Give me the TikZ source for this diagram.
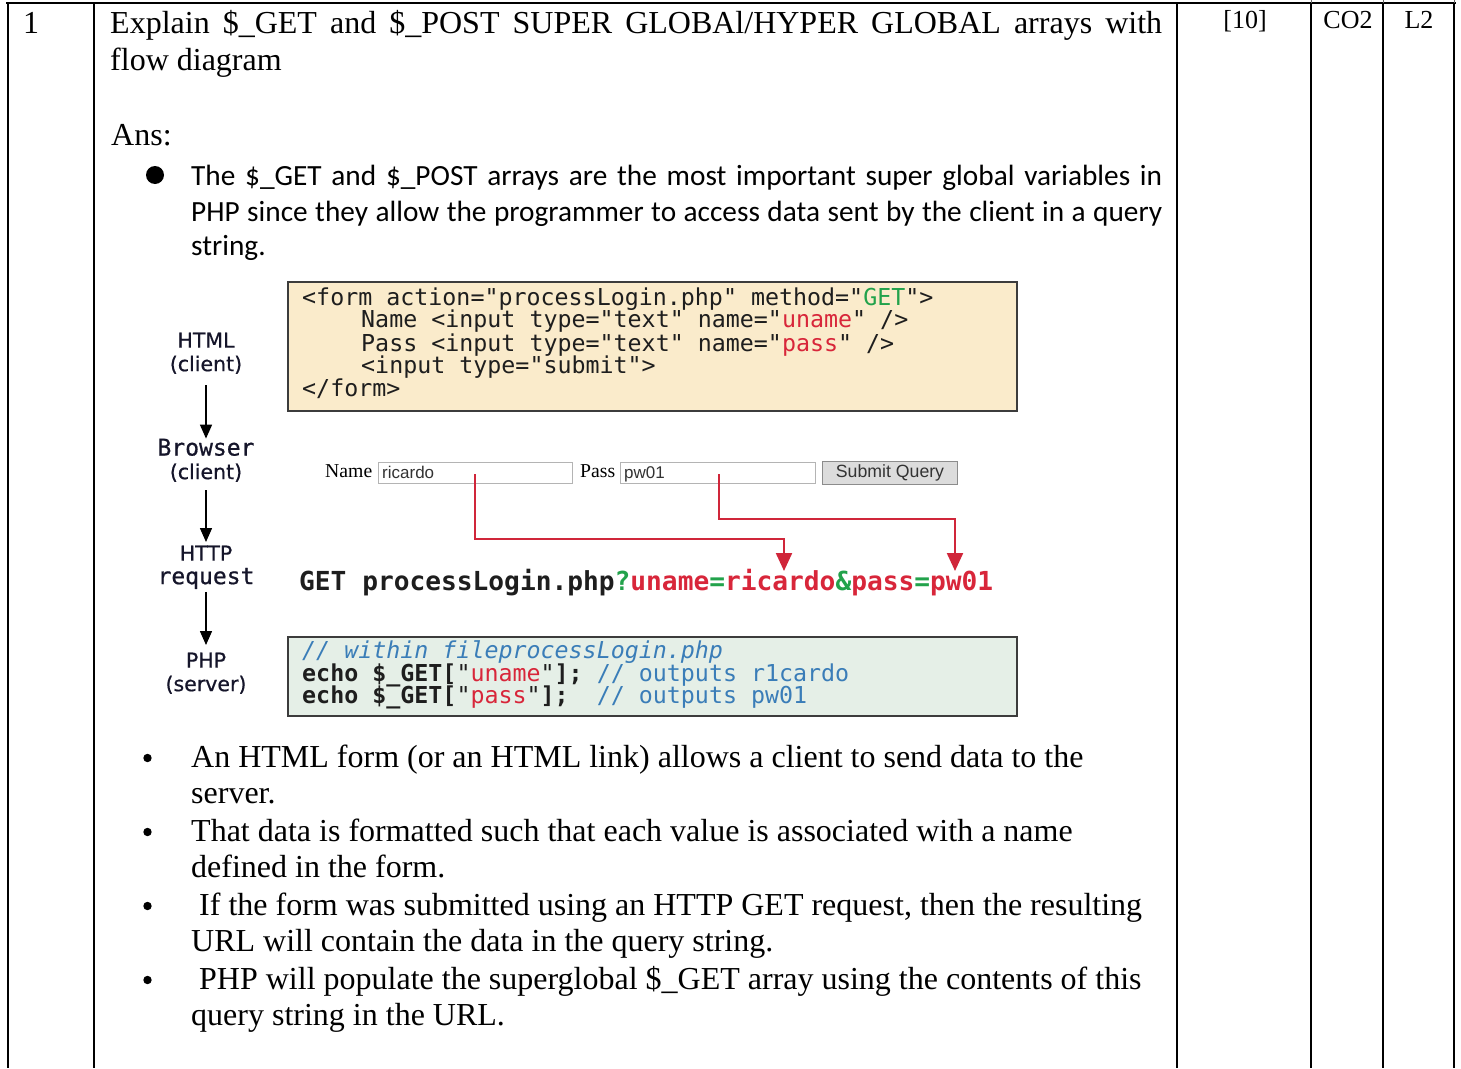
\documentclass[tikz,border=0pt]{standalone}
\usepackage{fontspec}
\setmainfont{Liberation Serif}
\newfontfamily\calfont{Carlito}
\newfontfamily\codefont{DejaVu Sans Mono}
\newfontfamily\labelfont[FakeBold=0.7]{DejaVu Sans}
\newfontfamily\labelmono[FakeBold=0.7]{DejaVu Sans Mono}
\newfontfamily\uifont{Liberation Sans}
\usetikzlibrary{arrows.meta}
\definecolor{formbg}{HTML}{FAEBCB}
\definecolor{phpbg}{HTML}{E5EFE7}
\definecolor{boxline}{HTML}{3C3C3C}
\definecolor{kwgreen}{HTML}{22A24B}
\definecolor{kwred}{HTML}{D8263A}
\definecolor{cmtblue}{HTML}{3A7DB8}
\definecolor{arrowred}{HTML}{D0263A}
\definecolor{codeink}{HTML}{1E1E1E}
\definecolor{labelink}{HTML}{15152A}
\definecolor{fieldline}{HTML}{B4B4B4}
\definecolor{buttonbg}{HTML}{DCDCDC}

\newcommand\monoword[1]{{\labelmono\fontsize{23}{23}\selectfont #1}}

\begin{document}
\begin{tikzpicture}[x=1pt,y=-1pt,
  rule/.style={line width=2pt},
  body/.style={font=\fontsize{32}{36}\selectfont, anchor=base west, inner sep=0},
  small/.style={font=\fontsize{26}{30}\selectfont, anchor=base, inner sep=0},
  calib/.style={font=\calfont\fontsize{29.3}{36}\selectfont, anchor=base west, inner sep=0},
  code/.style={font=\codefont\fontsize{23.3}{24}\selectfont, text=codeink, anchor=base west, inner sep=0},
  stage/.style={font=\labelfont\fontsize{20.5}{23.5}\selectfont, align=center, inner sep=0, text=labelink, anchor=north},
  codebox/.style={draw=boxline, line width=2pt, anchor=north west, inner sep=0, minimum width=729pt},
  flow/.style={line width=1.5pt, -{Triangle[width=12pt,length=14pt]}},
  pick/.style={arrowred, line width=2.2pt, -{Triangle[width=16pt,length=18pt]}},
  field/.style={draw=fieldline, fill=white, line width=0.8pt, anchor=north west, inner sep=0, minimum height=21pt},
  formlabel/.style={font=\fontsize{19.7}{22}\selectfont, anchor=base west, inner sep=0},
  fieldtext/.style={font=\uifont\fontsize{17}{20}\selectfont, text=black!80, anchor=base west, inner sep=0},
  dot/.style={fill=black, draw=none},
  ]
\useasboundingbox (0,0) rectangle (1461,1068);

% table rules
\draw[rule] (6,3) -- (1456,3);
\foreach \x in {8,94,1177,1311,1383,1454} \draw[rule] (\x,3) -- (\x,1068);
\foreach \x in {1311,1383,1454} \draw[black!60, line width=1pt] (\x,0) -- (\x,3);

% header row
\node[body] (qno) at (23,33.5) {1};
\node[body] (qtext) at (110,33.5) {\makebox[1052pt][s]{Explain \$\_GET and \$\_POST SUPER GLOBAl/HYPER GLOBAL arrays with}};
\node[body] (qtext2) at (110,70) {flow diagram};
\node[small] (marks) at (1245,28) {[10]};
\node[small] (co) at (1348,28) {CO2};
\node[small] (lvl) at (1419,28) {L2};

\node[body] (ans) at (111,145) {Ans:};

% introductory bullet
\fill[dot] (155,175) circle (9);
\node[calib] (intro1) at (191,185) {\makebox[971pt][s]{The \$\_GET and \$\_POST arrays are the most important super global variables in}};
\node[calib] (intro2) at (191,221) {\makebox[971pt][s]{PHP since they allow the programmer to access data sent by the client in a query}};
\node[calib] (intro3) at (191,255) {string.};

% flow stages
\node[stage] (html) at (206,332.5) {HTML\\(client)};
\node[stage] (browser) at (206,438.6) {\monoword{Browser}\\(client)};
\node[stage] (http) at (206,545.5) {HTTP\\\monoword{request}};
\node[stage] (php) at (206,652.5) {PHP\\(server)};
\draw[flow, shorten <=11pt] (html.south) -- (browser.north);
\draw[flow, shorten <=8.4pt, shorten >=3.5pt] (browser.south) -- (http.north);
\draw[flow, shorten <=2.7pt, shorten >=7.5pt] (http.south) -- (php.north);

% HTML form source
\node[codebox, fill=formbg, minimum height=129pt] (formsrc) at (287,281) {};
\node[code] (f1) at (302,305) {<form action="processLogin.php" method="\textcolor{kwgreen}{GET}">};
\node[code] (f2) at (361,327) {Name <input type="text" name="\textcolor{kwred}{uname}" />};
\node[code] (f3) at (361,351) {Pass <input type="text" name="\textcolor{kwred}{pass}" />};
\node[code] (f4) at (361,373) {<input type="submit">};
\node[code] (f5) at (302,396) {</form>};

% rendered form
\node[formlabel] (namelbl) at (325,477) {Name};
\node[field, minimum width=194pt] (namefield) at (378,462) {};
\node[fieldtext] (nameval) at (382,478) {ricardo};
\node[formlabel] (passlbl) at (580,477) {Pass};
\node[field, minimum width=195pt] (passfield) at (620,462) {};
\node[fieldtext] (passval) at (624,478) {pw01};
\node[draw=black!45, fill=buttonbg, line width=1pt, anchor=north west, inner sep=0,
      minimum width=135pt, minimum height=23pt, text=black!80, font=\uifont\fontsize{17.7}{20}\selectfont] (submit) at (822,461) {Submit Query};

% resulting request line
\node[font=\codefont\bfseries\fontsize{26.2}{28}\selectfont, text=codeink, anchor=base west, inner sep=0] (request) at (299,590)
  {GET processLogin.php\textcolor{kwgreen}{?}\textcolor{kwred}{uname}\textcolor{kwgreen}{=}\textcolor{kwred}{ricardo}\textcolor{kwgreen}{\&}\textcolor{kwred}{pass}\textcolor{kwgreen}{=}\textcolor{kwred}{pw01}};

% field values into the query string
\coordinate (uFrom) at (475,474);
\coordinate (uBend) at (784,539);
\coordinate (uTo) at (784,571);
\coordinate (pFrom) at (719,474);
\coordinate (pBend) at (955,519);
\coordinate (pTo) at (955,571);
\draw[pick] (uFrom) |- (uBend) -- (uTo);
\draw[pick] (pFrom) |- (pBend) -- (pTo);

% PHP side
\node[codebox, fill=phpbg, minimum height=79pt] (phpsrc) at (287,636) {};
\node[code, text=cmtblue, font=\codefont\itshape\fontsize{23.3}{24}\selectfont] (p1) at (302,658) {// within fileprocessLogin.php};
\node[code] (p2) at (302,681) {\textbf{echo \$\_GET[}"\textcolor{kwred}{uname}"\textbf{];}\ \textcolor{cmtblue}{// outputs r1cardo}};
\node[code] (p3) at (302,703) {\textbf{echo \$\_GET[}"\textcolor{kwred}{pass}"\textbf{];}\ \ \textcolor{cmtblue}{// outputs pw01}};

% explanation bullets
\foreach \y in {758,832,906,980} \fill[dot] (147.5,\y) circle (4.2);
\node[body] (b1) at (191,767) {An HTML form (or an HTML link) allows a client to send data to the};
\node[body] (b1b) at (191,803) {server.};
\node[body] (b2) at (191,841) {That data is formatted such that each value is associated with a name};
\node[body] (b2b) at (191,877) {defined in the form.};
\node[body] (b3) at (199,915) {If the form was submitted using an HTTP GET request, then the resulting};
\node[body] (b3b) at (191,951) {URL will contain the data in the query string.};
\node[body] (b4) at (199,989) {PHP will populate the superglobal \$\_GET array using the contents of this};
\node[body] (b4b) at (191,1025) {query string in the URL.};
\end{tikzpicture}
\end{document}
